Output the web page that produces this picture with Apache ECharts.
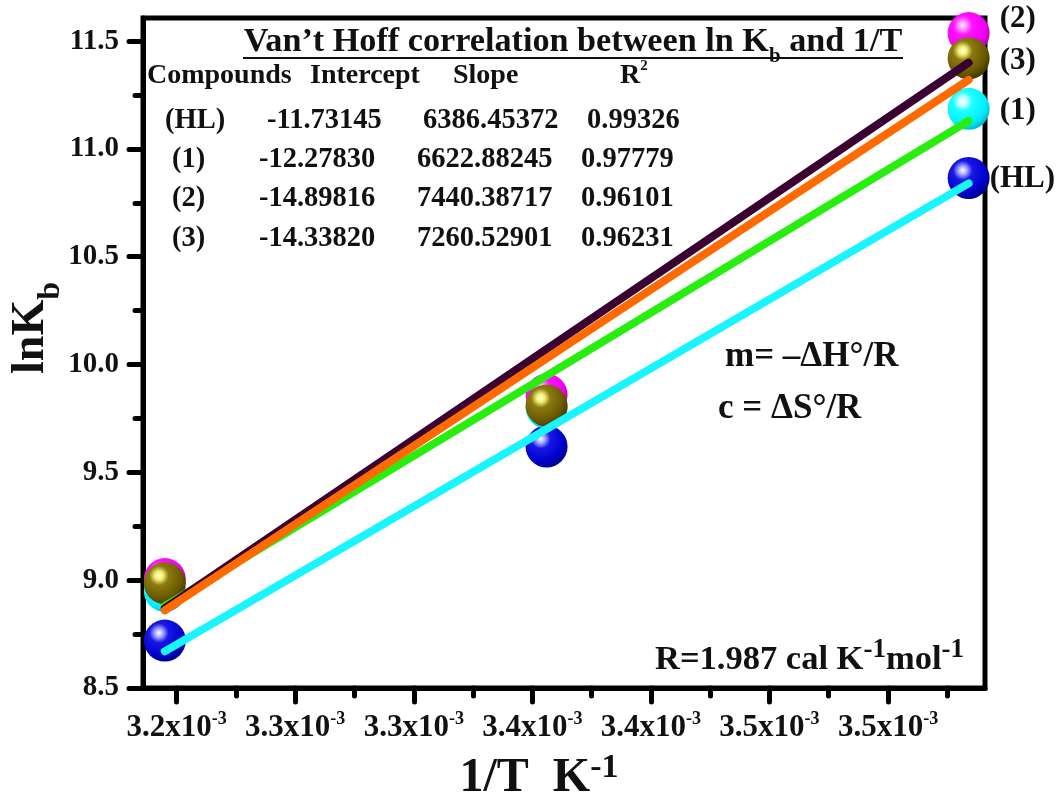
<!DOCTYPE html>
<html>
<head>
<meta charset="utf-8">
<script src="https://cdn.jsdelivr.net/npm/echarts@6/dist/echarts.min.js"></script>
<style>
html,body{margin:0;padding:0;background:#fff;}
#chart{width:1061px;height:803px;}
</style>
</head>
<body>
<div id="chart"></div>
<script>
// ---- data (1/T in units of 10^-3 K^-1) ----
const invT = [3.195, 3.356, 3.534];
const lnKb_HL = [8.72, 9.62, 10.865];
const lnKb_1 = [8.95, 9.80, 11.186];
const lnKb_2 = [9.005, 9.86, 11.537];
const lnKb_3 = [8.986, 9.81, 11.42];
// linear fit end points
const fitX = [3.195, 3.534];
const fit_HL = [8.67, 10.84];
const fit_1 = [8.88, 11.13];
const fit_2 = [8.87, 11.40];
const fit_3 = [8.86, 11.32];
// ticks and tick labels
const xTickValues = [3.20, 3.25, 3.30, 3.35, 3.40, 3.45, 3.50];
const xTickLabels = ['3.2', '3.3', '3.3', '3.4', '3.4', '3.5', '3.5'];
const xMinorValues = [3.225, 3.275, 3.325, 3.375, 3.425, 3.475, 3.525];
const yTickValues = [8.5, 9.0, 9.5, 10.0, 10.5, 11.0, 11.5];
const yTickLabels = ['8.5', '9.0', '9.5', '10.0', '10.5', '11.0', '11.5'];
const yMinorValues = [8.75, 9.25, 9.75, 10.25, 10.75, 11.25];
// table
const tableCompounds = ['(HL)', '(1)', '(2)', '(3)'];
const tableIntercept = ['-11.73145', '-12.27830', '-14.89816', '-14.33820'];
const tableSlope = ['6386.45372', '6622.88245', '7440.38717', '7260.52901'];
const tableR2 = ['0.99326', '0.97779', '0.96101', '0.96231'];
const seriesNames = ['(HL)', '(1)', '(2)', '(3)'];

const FONT = '"Liberation Serif","Times New Roman",serif';
const X_MIN = 3.1858, X_MAX = 3.5409, Y_MIN = 8.5, Y_MAX = 11.607;

function ball(c0, c1, c2, c3, c4) {
  return {
    type: 'radial', x: 0.36, y: 0.32, r: 0.72,
    colorStops: [
      {offset: 0, color: c0}, {offset: 0.14, color: c1},
      {offset: 0.32, color: c2}, {offset: 0.75, color: c3}, {offset: 1, color: c4}
    ]
  };
}
const ballColors = [
  ball('#ffffff', '#a8a8ff', '#1818e6', '#0000cc', '#00008a'),
  ball('#ffffff', '#c8ffff', '#20ffff', '#00f0ff', '#00b8c8'),
  ball('#ffe8ff', '#ff90ff', '#ff10ff', '#f000f0', '#b000b0'),
  ball('#ffffe8', '#f0f070', '#8c7a10', '#6a5800', '#433800')
];
const lineColors = ['#19f5ff', '#28ee10', '#3a0032', '#ff6a00'];
const pts = [lnKb_HL, lnKb_1, lnKb_2, lnKb_3];
const fits = [fit_HL, fit_1, fit_2, fit_3];
const labelOffsets = [[0, 1], [10, 2], [10, -14], [10, 3]];

const series = [];
pts.forEach((ys, i) => {
  series.push({
    type: 'scatter', name: seriesNames[i], z: 3,
    symbolSize: 42,
    data: invT.map((x, j) => [x, ys[j]]),
    itemStyle: {color: ballColors[i], opacity: 1},
    label: {
      show: true, position: 'right', distance: 0,
      offset: labelOffsets[i],
      formatter: p => p.dataIndex === invT.length - 1 ? seriesNames[i] : '',
      fontFamily: FONT, fontWeight: 'bold', fontSize: 31, color: '#111'
    }
  });
});
fits.forEach((ys, i) => {
  series.push({
    type: 'line', z: 4, symbol: 'none', silent: true,
    data: fitX.map((x, j) => [x, ys[j]]),
    lineStyle: {color: lineColors[i], width: 8, cap: 'round'}
  });
});

const rowY = [121, 160, 199, 239];
const graphics = [];
function txt(x, y, text, size, align, rich, extra) {
  const o = {
    type: 'text', x: x, y: y, z: 100,
    style: {
      text: text, fontFamily: FONT, fontWeight: 'bold', fontSize: size, fill: '#111',
      textAlign: align || 'left', align: align || 'left',
      textVerticalAlign: 'middle', verticalAlign: 'middle', rich: rich
    }
  };
  if (extra) Object.assign(o, extra);
  graphics.push(o);
}
// title
txt(573, 42, '{t|Van’t Hoff correlation between ln K}{sub|b}{t| and 1/T}', 34, 'center', {
  t: {fontFamily: FONT, fontWeight: 'bold', fontSize: 34.2, fill: '#111', lineHeight: 40},
  sub: {fontFamily: FONT, fontWeight: 'bold', fontSize: 21, fill: '#111', verticalAlign: 'bottom', padding: [0, 0, -5, 0]}
});
graphics.push({type: 'line', shape: {x1: 243, y1: 58, x2: 903, y2: 58}, style: {stroke: '#111', lineWidth: 2}, z: 100});
// header
txt(147, 76, 'Compounds', 28);
txt(310, 76, 'Intercept', 28);
txt(453, 76, 'Slope', 28);
txt(620, 76, '{t|R}{s|2}', 28, 'left', {
  t: {fontFamily: FONT, fontWeight: 'bold', fontSize: 28, fill: '#111', lineHeight: 34},
  s: {fontFamily: FONT, fontWeight: 'bold', fontSize: 15, fill: '#111', verticalAlign: 'top'}
});
tableCompounds.forEach((c, i) => {
  txt(i === 0 ? 165 : 172, rowY[i], c, 28.5);
  txt(i === 0 ? 267 : 259, rowY[i], tableIntercept[i], 28.5);
  txt(i === 0 ? 423 : 417, rowY[i], tableSlope[i], 28.5);
  txt(i === 0 ? 587 : 581, rowY[i], tableR2[i], 28.5);
});
txt(725, 357, 'm= –ΔH°/R', 35);
txt(718, 409, 'c = ΔS°/R', 35);
txt(655, 660, '{t|R=1.987 cal K}{s|-1}{t|mol}{s|-1}', 35, 'left', {
  t: {fontFamily: FONT, fontWeight: 'bold', fontSize: 34.5, fill: '#111', lineHeight: 46},
  s: {fontFamily: FONT, fontWeight: 'bold', fontSize: 27, fill: '#111', verticalAlign: 'top'}
});
// axis titles
txt(539, 779, '{t|1/T  K}{s|-1}', 48, 'center', {
  t: {fontFamily: FONT, fontWeight: 'bold', fontSize: 48, fill: '#111', lineHeight: 56},
  s: {fontFamily: FONT, fontWeight: 'bold', fontSize: 34, fill: '#111', verticalAlign: 'top'}
});
txt(31, 328, '{t|lnK}{s|b}', 46, 'center', {
  t: {fontFamily: FONT, fontWeight: 'bold', fontSize: 46, fill: '#111', lineHeight: 54},
  s: {fontFamily: FONT, fontWeight: 'bold', fontSize: 32, fill: '#111', verticalAlign: 'bottom', padding: [0, 0, -9, 0]}
}, {rotation: Math.PI / 2});

const tickStyle = {color: '#000', width: 5, cap: 'round'};
const chart = echarts.init(document.getElementById('chart'), null, {renderer: 'canvas'});
chart.setOption({
  backgroundColor: '#fff',
  animation: false,
  grid: {left: 143, top: 18, width: 842, height: 670, show: true, borderColor: '#000', borderWidth: 5, backgroundColor: 'transparent'},
  xAxis: [{
    type: 'value', position: 'bottom', min: X_MIN, max: X_MAX,
    axisLine: {show: true, lineStyle: {color: '#000', width: 5}},
    axisTick: {show: true, length: 14, customValues: xTickValues, lineStyle: tickStyle},
    splitLine: {show: false},
    axisLabel: {
      margin: 22, color: '#111', customValues: xTickValues,
      formatter: v => {
        let k = xTickValues.findIndex(t => Math.abs(t - v) < 1e-6);
        return k < 0 ? '' : '{m|' + xTickLabels[k] + 'x10}{s|-3}';
      },
      rich: {
        m: {fontFamily: FONT, fontWeight: 'bold', fontSize: 31, color: '#111', lineHeight: 36},
        s: {fontFamily: FONT, fontWeight: 'bold', fontSize: 18, color: '#111', verticalAlign: 'top'}
      }
    }
  }, {
    type: 'value', position: 'bottom', min: X_MIN, max: X_MAX,
    axisLine: {show: false},
    axisTick: {show: true, length: 8, customValues: xMinorValues, lineStyle: tickStyle},
    axisLabel: {show: false},
    splitLine: {show: false}
  }],
  yAxis: [{
    type: 'value', position: 'left', min: Y_MIN, max: Y_MAX,
    axisLine: {show: true, lineStyle: {color: '#000', width: 5}},
    axisTick: {show: true, length: 14, customValues: yTickValues, lineStyle: tickStyle},
    splitLine: {show: false},
    axisLabel: {
      margin: 24, color: '#111', fontFamily: FONT, fontWeight: 'bold', fontSize: 29,
      customValues: yTickValues,
      formatter: v => {
        let k = yTickValues.findIndex(t => Math.abs(t - v) < 1e-6);
        return k < 0 ? '' : yTickLabels[k];
      }
    }
  }, {
    type: 'value', position: 'left', min: Y_MIN, max: Y_MAX,
    axisLine: {show: false},
    axisTick: {show: true, length: 8, customValues: yMinorValues, lineStyle: tickStyle},
    axisLabel: {show: false},
    splitLine: {show: false}
  }],
  graphic: {elements: graphics},
  series: series
});
</script>
</body>
</html>
